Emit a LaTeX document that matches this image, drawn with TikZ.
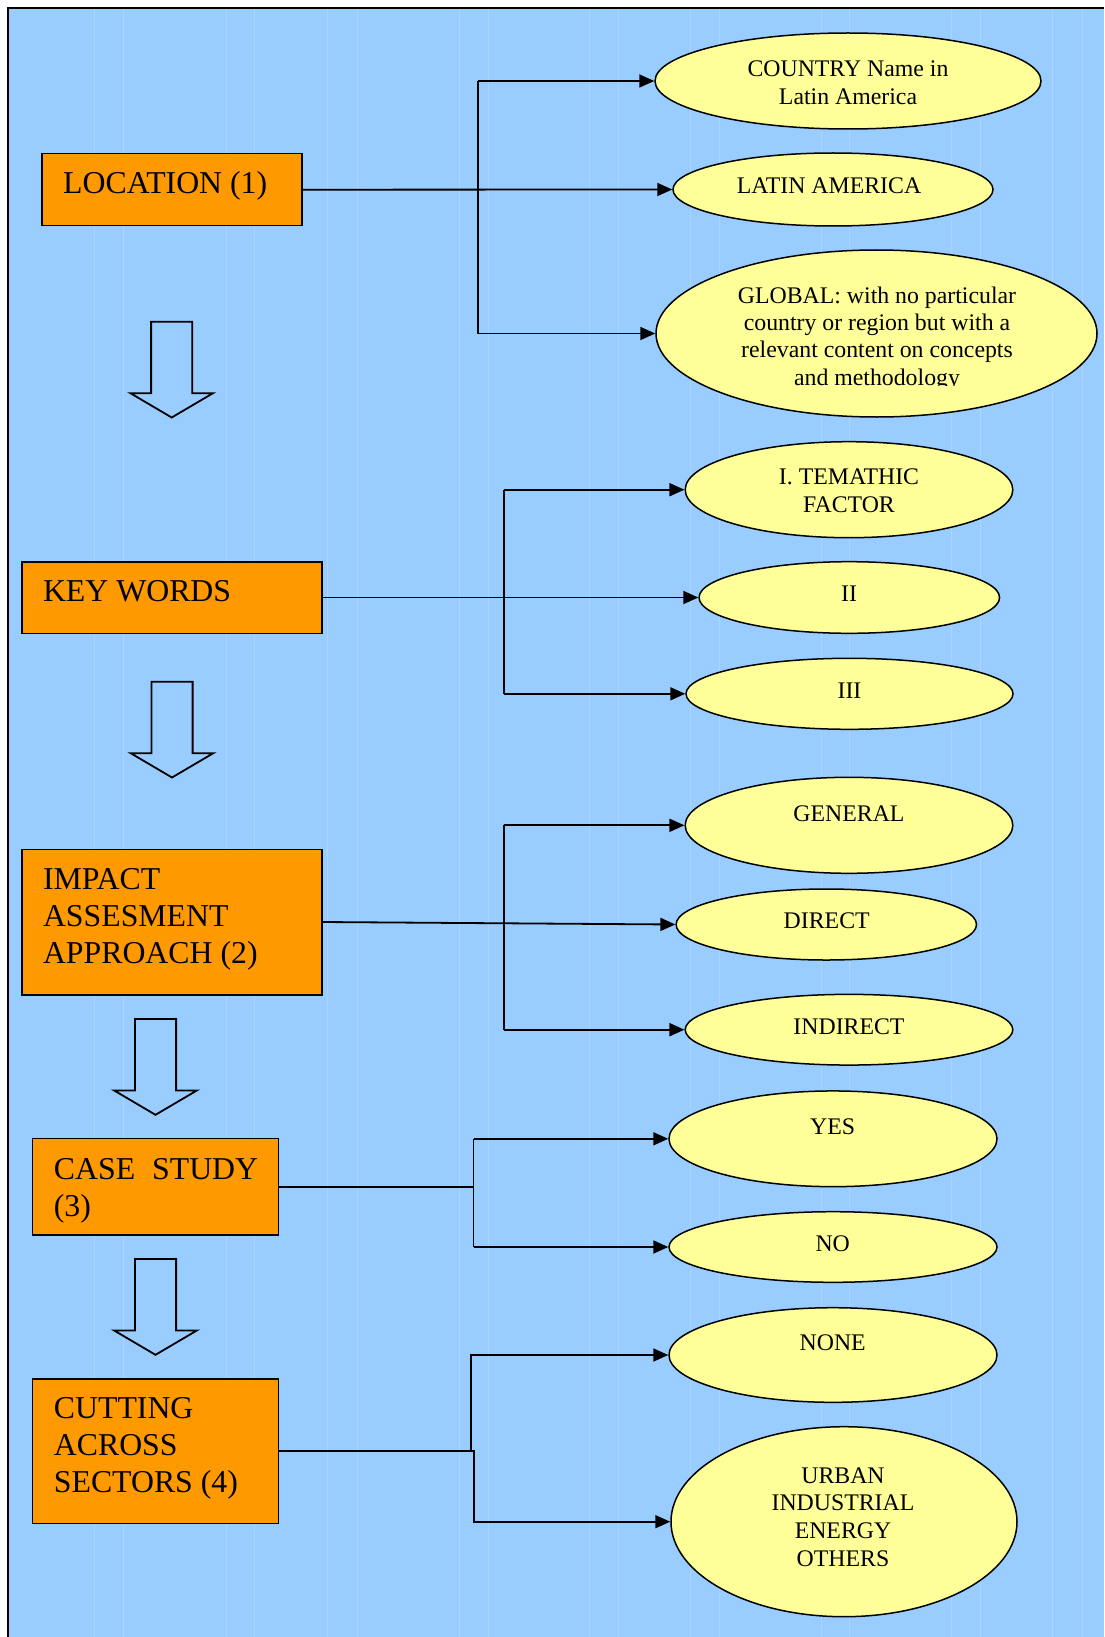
\documentclass[tikz,border=0pt]{standalone}
\usepackage{fontspec}
\setmainfont{Liberation Serif}
\usetikzlibrary{arrows.meta,shapes.geometric,calc}
\definecolor{bg}{HTML}{99CCFF}
\definecolor{boxor}{HTML}{FF9900}
\definecolor{ellyel}{HTML}{FFFF99}
\newcommand{\downblock}[2]{%
  \draw[blockarrow] ({#1-20.6},#2) -- ({#1+20.6},#2) -- ({#1+20.6},{#2+71.5}) -- ({#1+41.3},{#2+71.5}) -- (#1,{#2+95.8}) -- ({#1-41.3},{#2+71.5}) -- ({#1-20.6},{#2+71.5}) -- cycle;}
\begin{document}
\begin{tikzpicture}[x=1pt,y=-1pt,
  boxnode/.style={draw=black, line width=1.6pt, fill=boxor, rectangle, inner sep=0pt},
  ell/.style={draw=black, line width=1.5pt, fill=ellyel, ellipse, inner sep=0pt},
  boxtext/.style={anchor=base west, inner sep=0pt, align=left, font=\fontsize{31.8}{37}\selectfont},
  elltext/.style={anchor=base, inner sep=0pt, align=center, font=\fontsize{23.8}{28}\selectfont},
  conn/.style={line width=1.8pt, draw=black},
  arr/.style={conn, -{Triangle[length=15pt,width=13pt]}},
  blockarrow/.style={draw=black, line width=1.8pt, fill=bg, line join=miter},
  gridline/.style={draw=white, opacity=0.18, line width=1pt}]
\useasboundingbox (0,0) rectangle (1104,1637);
\fill[white] (0,0) rectangle (1104,1637);
\fill[bg] (7.5,8) rectangle (1104,1637);
\foreach \gx in {94,123,226,254,327,357,459,488,589,618,690,719,821,849,951,980,1052,1082}
  \draw[gridline] (\gx,9) -- (\gx,1637);
\draw[line width=2pt] (7.5,1637) -- (7.5,8) -- (1104,8);

% boxes
\node[boxnode, minimum width=260pt, minimum height=72pt] (b1) at (172,189.7) {};
\node[boxnode, minimum width=300.3pt, minimum height=71.6pt] (b2) at (171.85,597.5) {};
\node[boxnode, minimum width=300.3pt, minimum height=145.4pt] (b3) at (171.85,922) {};
\node[boxnode, minimum width=245.9pt, minimum height=96.7pt] (b4) at (155.55,1186.7) {};
\node[boxnode, minimum width=245.9pt, minimum height=144.3pt] (b5) at (155.55,1451.2) {};
% (anchor base = baseline of the last line)
\node[boxtext] (bt1) at (63,194) {LOCATION (1)};
\node[boxtext] (bt2) at (42.8,601.7) {KEY WORDS};
\node[boxtext] (bt3) at (42.8,963.3) {IMPACT\\ASSESMENT\\APPROACH (2)};
\node[boxtext] (bt4) at (53.7,1216.5) {CASE\hspace{17pt}STUDY\\(3)};
\node[boxtext] (bt5) at (53.7,1492.3) {CUTTING\\ACROSS\\SECTORS (4)};

% block arrows
\downblock{171.7}{321.7}
\downblock{172}{681.7}
\downblock{155.5}{1019}
\downblock{155.5}{1259}

% ellipses
\node[ell, minimum width=386pt, minimum height=96pt] (e1) at (848,81) {};
\node[ell, minimum width=320pt, minimum height=73pt] (e2) at (833,189.5) {};
\node[ell, minimum width=441pt, minimum height=167pt] (e3) at (876.5,333.5) {};
\node[ell, minimum width=327.6pt, minimum height=96pt] (e4) at (849,489.7) {};
\node[ell, minimum width=300.5pt, minimum height=71.6pt] (e5) at (849.3,597.5) {};
\node[ell, minimum width=327pt, minimum height=71pt] (e6) at (849.5,693.8) {};
\node[ell, minimum width=327.6pt, minimum height=96pt] (e7) at (849,825.3) {};
\node[ell, minimum width=300.4pt, minimum height=71pt] (e8) at (826.3,924.5) {};
\node[ell, minimum width=327.6pt, minimum height=70.7pt] (e9) at (849,1029.7) {};
\node[ell, minimum width=328pt, minimum height=95.7pt] (e10) at (833,1138.8) {};
\node[ell, minimum width=328pt, minimum height=70.6pt] (e11) at (833,1247) {};
\node[ell, minimum width=328pt, minimum height=94.6pt] (e12) at (833,1355) {};
\node[ell, minimum width=346pt, minimum height=190pt] (e13) at (844,1521.7) {};

% ellipse texts
\node[elltext] (t1) at (848,105) {COUNTRY Name in\\Latin America};
\node[elltext] (t2) at (829,194) {LATIN AMERICA};
\begin{scope}
\clip (600,240) rectangle (1104,385.3);
\node[elltext, font=\fontsize{23.8}{27.3}\selectfont] (t3) at (877,385.2) {GLOBAL: with no particular\\country or region but with a\\relevant content on concepts\\and methodology};
\end{scope}
\node[elltext] (t4) at (849,512.3) {I. TEMATHIC\\FACTOR};
\node[elltext] (t5) at (849,601.7) {II};
\node[elltext] (t6) at (849.5,698.3) {III};
\node[elltext] (t7) at (849,821.7) {GENERAL};
\node[elltext] (t8) at (826.7,928.3) {DIRECT};
\node[elltext] (t9) at (849,1034.3) {INDIRECT};
\node[elltext] (t10) at (832.7,1134.3) {YES};
\node[elltext] (t11) at (832.7,1251.7) {NO};
\node[elltext] (t12) at (832.7,1350.7) {NONE};
\node[elltext, font=\fontsize{23.8}{27.6}\selectfont] (t13) at (843,1566.1) {URBAN\\INDUSTRIAL\\ENERGY\\OTHERS};

% connectors
\coordinate (j1) at (478,0);
\coordinate (j2) at (503.7,0);
\coordinate (j3) at (503.7,0);
\coordinate (j4) at (473.5,0);
\coordinate (j5) at (471,0);
\coordinate (j6) at (474,0);

\draw[conn] (j1 |- e1.west) -- (j1 |- e3.west);
\draw[arr] (b1.east) -- (e2.west);
\draw[arr] (j1 |- e1.west) -- (e1.west);
\draw[arr] (j1 |- e3.west) -- (e3.west);

\draw[conn] (j2 |- e4.west) -- (j2 |- e6.west);
\draw[arr] (b2.east) -- (e5.west);
\draw[arr] (j2 |- e4.west) -- (e4.west);
\draw[arr] (j2 |- e6.west) -- (e6.west);

\draw[conn] (j3 |- e7.west) -- (j3 |- e9.west);
\draw[arr] (b3.east) -- (e8.west);
\draw[arr] (j3 |- e7.west) -- (e7.west);
\draw[arr] (j3 |- e9.west) -- (e9.west);

\draw[conn] (b4.east) -- (j4 |- b4.east);
\draw[conn] (j4 |- e10.west) -- (j4 |- e11.west);
\draw[arr] (j4 |- e10.west) -- (e10.west);
\draw[arr] (j4 |- e11.west) -- (e11.west);

\draw[arr] (b5.east) -- (j6 |- b5.east) -- (j6 |- e13.west) -- (e13.west);
\draw[arr] (j5 |- b5.east) -- (j5 |- e12.west) -- (e12.west);
\end{tikzpicture}
\end{document}
